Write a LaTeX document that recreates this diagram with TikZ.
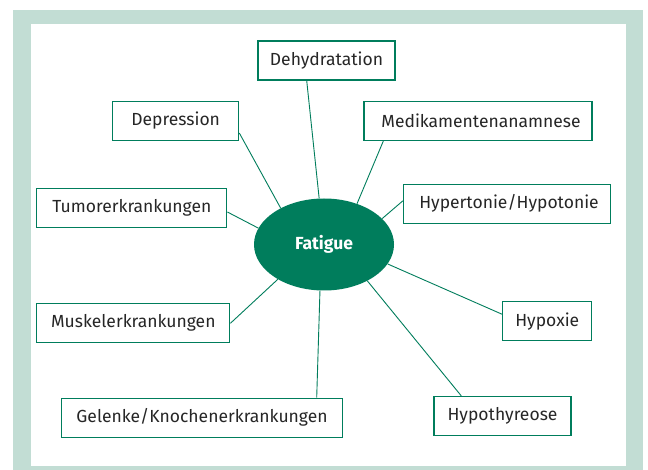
\documentclass[tikz,border=0pt]{standalone}
\usepackage{fontspec}
\setmainfont{Fira Sans}
\usetikzlibrary{shapes.geometric}
\definecolor{fatgreen}{HTML}{007D5C}
\definecolor{framegreen}{HTML}{C2DDD4}
\definecolor{txtgray}{HTML}{262626}
\tikzset{
  cause/.style={draw=fatgreen, line width=1.2pt, fill=white, text=txtgray,
    minimum height=39pt, inner sep=0pt, font=\fontsize{17.5}{20}\selectfont},
  link/.style={draw=fatgreen, line width=0.9pt}
}

\begin{document}
\begin{tikzpicture}[x=1pt,y=-1pt]
			%%%%% FRAME %%%%%
			\useasboundingbox (0,0) rectangle (648,470);
			\fill[framegreen] (13,10) rectangle (643,470);
			\fill[white] (31,24) rectangle (626,466);
			
			%%%%% CENTRE %%%%%
			\node[ellipse, fill=fatgreen, minimum width=140pt, minimum height=92pt, inner sep=0pt,
			      text=white, font=\fontsize{17.5}{20}\selectfont\bfseries] (fat) at (324,244.5) {Fatigue};
			
			%%%%% CAUSES %%%%%
			\node[cause, minimum width=137pt] (dehy) at (326.5,60.5) {Dehydratation};
			\node[cause, minimum width=126pt] (depr) at (175.7,121) {Depression};
			\node[cause, minimum width=228pt] (medi) at (478,121) {\hspace{6pt}Medikamentenanamnese};
			\node[cause, minimum width=190pt] (tumor) at (131.8,208) {Tumorerkrankungen};
			\node[cause, minimum width=207pt] (hyper) at (507,203.8) {\hspace{4pt}Hypertonie/Hypotonie};
			\node[cause, minimum width=193pt] (muskel) at (133.3,323.3) {Muskelerkrankungen};
			\node[cause, minimum width=89pt] (hypox) at (547.3,321.3) {Hypoxie};
			\node[cause, minimum width=281pt] (gelenk) at (202,417.7) {Gelenke/Knochenerkrankungen};
			\node[cause, minimum width=137pt] (thyr) at (502.5,416) {Hypothyreose};
			
			%%%%% LINKS %%%%%
			\draw[link] ([xshift=-19.8pt]dehy.south) -- (fat.96);
			\draw[link] ([yshift=-12pt]depr.east) -- (fat.140);
			\draw[link] ([yshift=-4pt]tumor.east) -- (fat.166);
			\draw[link] ([xshift=-94.7pt]medi.south) -- (fat.51.3);
			\draw[link] ([yshift=3pt]hyper.west) -- (fat.24.2);
			\draw[link] (muskel.east) -- (fat.217);
			\draw[link] ([xshift=114.7pt]gelenk.north) -- (fat.265);
			\draw[link] ([yshift=7pt]hypox.west) -- (fat.-17);
			\draw[link] ([xshift=-41.2pt]thyr.north) -- (fat.-40.7);
\end{tikzpicture}
\end{document}
